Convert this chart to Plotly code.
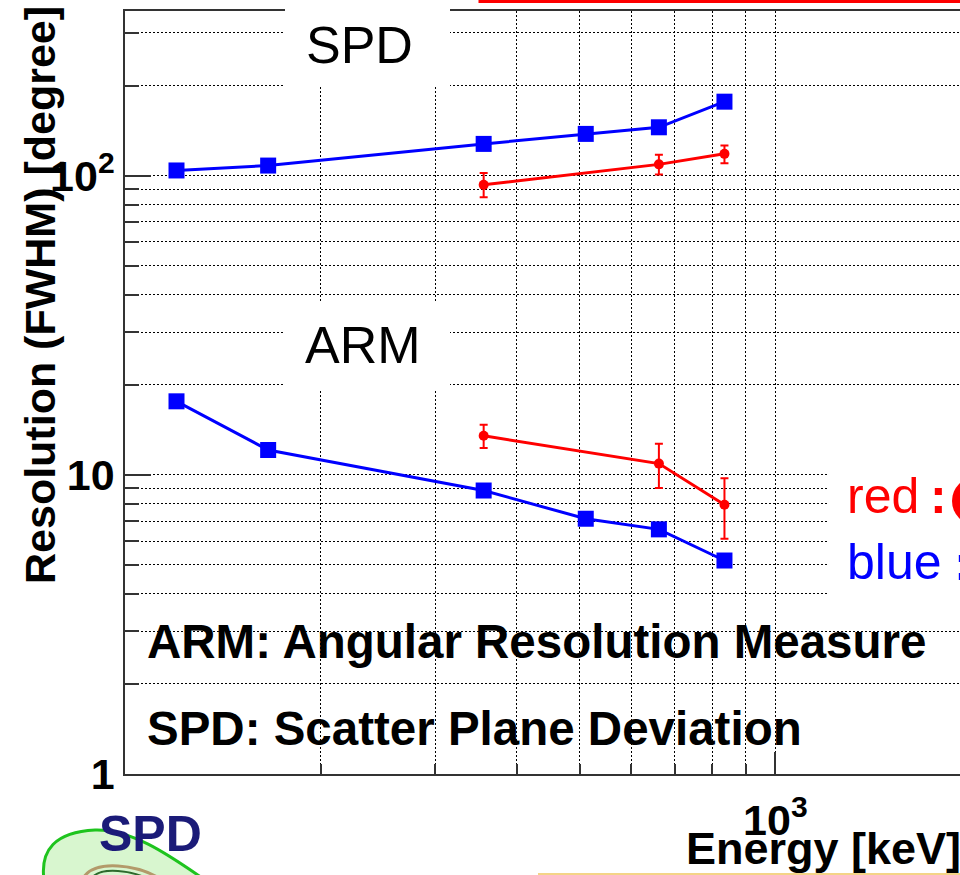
import plotly.graph_objects as go

# ---------------- data ----------------
energy_keV = [120, 166, 356, 511, 662, 835]
energy_red_keV = [356, 662, 835]

spd_blue = [104, 108, 127.6, 137.8, 145, 176.6]
spd_red = [93.1, 109, 118.2]
spd_red_err_plus = [8.9, 8.3, 7.8]
spd_red_err_minus = [8.4, 8.2, 8.2]

arm_blue = [17.6, 12.1, 8.86, 7.13, 6.57, 5.17]
arm_red = [13.5, 10.9, 7.94]
arm_red_err_plus = [1.2, 1.8, 1.8]
arm_red_err_minus = [1.2, 1.87, 1.83]

y_tick_vals = [1, 10, 100]
y_tick_text = ["1", "10", "10<sup>2</sup>"]
y_minor_vals = [2, 3, 4, 5, 6, 7, 8, 9, 20, 30, 40, 50, 60, 70, 80, 90, 200, 300]
x_tick_vals = [1000]
x_tick_text = ["10<sup>3</sup>"]
x_minor_vals = [200, 300, 400, 500, 600, 700, 800, 900]

# ---------------- geometry ----------------
W, H = 960, 875
ML, MR, MT, MB = 125, 0, 11, 101
PW, PH = W - ML - MR, H - MT - MB


def PX(x):
    return (x - ML) / PW


def PY(y):
    return (H - MB - y) / PH


def path(cmds):
    out = []
    for c in cmds:
        if isinstance(c, str):
            out.append(c)
        else:
            out.append(f"{PX(c[0]):.5f},{PY(c[1]):.5f}")
    return " ".join(out)


FONT = "Liberation Sans, Arial, Helvetica, sans-serif"
BLUE = "#0000ff"
RED = "#ff0000"

fig = go.Figure()

fig.add_trace(go.Scatter(
    x=energy_keV, y=spd_blue, mode="lines+markers",
    line=dict(color=BLUE, width=3),
    marker=dict(symbol="square", size=16, color=BLUE),
    showlegend=False))
fig.add_trace(go.Scatter(
    x=energy_keV, y=arm_blue, mode="lines+markers",
    line=dict(color=BLUE, width=3),
    marker=dict(symbol="square", size=16, color=BLUE),
    showlegend=False))
fig.add_trace(go.Scatter(
    x=energy_red_keV, y=spd_red, mode="lines+markers",
    line=dict(color=RED, width=3),
    marker=dict(symbol="circle", size=10, color=RED),
    error_y=dict(type="data", symmetric=False, array=spd_red_err_plus,
                 arrayminus=spd_red_err_minus, color=RED, thickness=2, width=4),
    showlegend=False))
fig.add_trace(go.Scatter(
    x=energy_red_keV, y=arm_red, mode="lines+markers",
    line=dict(color=RED, width=3),
    marker=dict(symbol="circle", size=10, color=RED),
    error_y=dict(type="data", symmetric=False, array=arm_red_err_plus,
                 arrayminus=arm_red_err_minus, color=RED, thickness=2, width=4),
    showlegend=False))

GRID = dict(showgrid=True, gridcolor="#000000", gridwidth=1, griddash="2px,2px")

fig.update_xaxes(
    type="log", range=[2, 2 + PW / 650.4],
    showline=True, linecolor="#333333", linewidth=1.5, mirror=True,
    ticks="inside", ticklen=22, tickwidth=1.5, tickcolor="#333333",
    tickmode="array", tickvals=x_tick_vals, ticktext=x_tick_text,
    tickfont=dict(family=FONT, size=43, color="#000", weight="bold"),
    ticklabelstandoff=8,
    zeroline=False, **GRID,
    minor=dict(tickmode="array", tickvals=x_minor_vals, ticks="inside",
               ticklen=10, tickwidth=1.5, tickcolor="#333333", **GRID),
)
fig.update_yaxes(
    type="log", range=[0, 2.55],
    showline=True, linecolor="#333333", linewidth=1.5, mirror=False,
    ticks="inside", ticklen=26, tickwidth=1.5, tickcolor="#333333",
    tickmode="array", tickvals=y_tick_vals, ticktext=y_tick_text,
    tickfont=dict(family=FONT, size=43, color="#000", weight="bold"),
    zeroline=False, **GRID,
    minor=dict(tickmode="array", tickvals=y_minor_vals, ticks="inside",
               ticklen=14, tickwidth=1.5, tickcolor="#333333", **GRID),
)

shapes = [
    # white label backgrounds
    dict(type="rect", xref="paper", yref="paper", layer="above",
         x0=PX(285), x1=PX(450), y0=PY(-5), y1=PY(86),
         fillcolor="white", line=dict(width=0)),
    dict(type="rect", xref="paper", yref="paper", layer="above",
         x0=PX(285), x1=PX(450), y0=PY(302), y1=PY(389),
         fillcolor="white", line=dict(width=0)),
    dict(type="rect", xref="paper", yref="paper", layer="above",
         x0=PX(828), x1=PX(970), y0=PY(405), y1=PY(612),
         fillcolor="white", line=dict(width=0)),
    # red circle next to "red:"
    dict(type="circle", xref="paper", yref="paper", layer="above",
         x0=PX(952), x1=PX(1000), y0=PY(525), y1=PY(477),
         fillcolor=RED, line=dict(width=0)),
    # red frame at top
    dict(type="rect", xref="paper", yref="paper", layer="above",
         x0=PX(480), x1=PX(1000), y0=PY(1.5), y1=PY(-40),
         line=dict(color=RED, width=3)),
    # yellow strip at bottom
    dict(type="rect", xref="paper", yref="paper", layer="above",
         x0=PX(538), x1=PX(1000), y0=PY(880), y1=PY(873),
         fillcolor="#f4d487", line=dict(width=0)),
    # logo: green blob
    dict(type="path", xref="paper", yref="paper", layer="above",
         path=path(["M", (44, 880), "C", (40, 850), (55, 832), (95, 830),
                    "C", (130, 829), (165, 852), (205, 880), "Z"]),
         fillcolor="#d8f6cf", line=dict(color="#1ec41e", width=3)),
    dict(type="path", xref="paper", yref="paper", layer="above",
         path=path(["M", (82, 880), "C", (88, 868), (102, 865), (118, 866),
                    "C", (135, 867), (150, 872), (162, 880)]),
         line=dict(color="#b39a6a", width=3)),
    dict(type="path", xref="paper", yref="paper", layer="above",
         path=path(["M", (90, 880), "C", (95, 872), (105, 870), (118, 871),
                    "C", (132, 872), (143, 876), (150, 880)]),
         line=dict(color="#2d6a2d", width=2)),
]

ann = [
    dict(text="SPD", x=PX(359), y=PY(45), font=dict(size=52, color="#000")),
    dict(text="ARM", x=PX(363), y=PY(344.5), font=dict(size=52, color="#000")),
    dict(text="ARM: Angular Resolution Measure", x=PX(146), y=PY(641),
         xanchor="left", font=dict(size=47.5, color="#000", weight="bold")),
    dict(text="SPD: Scatter Plane Deviation", x=PX(146), y=PY(728),
         xanchor="left", font=dict(size=47.5, color="#000", weight="bold")),
    dict(text="Resolution (FWHM) [degree]", x=PX(40), y=PY(295), textangle=-90,
         font=dict(size=43, color="#000", weight="bold")),
    dict(text="Energy [keV]", x=PX(685), y=PY(848), xanchor="left",
         font=dict(size=45, color="#000", weight="bold")),
    dict(text="red", x=PX(846), y=PY(495.5), xanchor="left",
         font=dict(size=50, color=RED)),
    dict(text=":", x=PX(938), y=PY(496), font=dict(size=50, color=RED, weight="bold")),
    dict(text="blue", x=PX(846), y=PY(562), xanchor="left",
         font=dict(size=50, color=BLUE)),
    dict(text=":", x=PX(962), y=PY(563), font=dict(size=50, color=BLUE, weight="bold")),
    dict(text="SPD", x=PX(98), y=PY(834), xanchor="left",
         font=dict(size=50, color="#1b1b78", weight="bold")),
]
annotations = []
for a in ann:
    base = dict(xref="paper", yref="paper", showarrow=False,
                xanchor="center", yanchor="middle", borderpad=0)
    base.update(a)
    f = dict(family=FONT)
    f.update(a["font"])
    base["font"] = f
    annotations.append(base)

fig.update_layout(
    width=W, height=H,
    margin=dict(l=ML, r=MR, t=MT, b=MB, pad=0),
    paper_bgcolor="white", plot_bgcolor="white",
    font=dict(family=FONT),
    shapes=shapes, annotations=annotations,
    showlegend=False,
)

fig.write_html("out.html")
